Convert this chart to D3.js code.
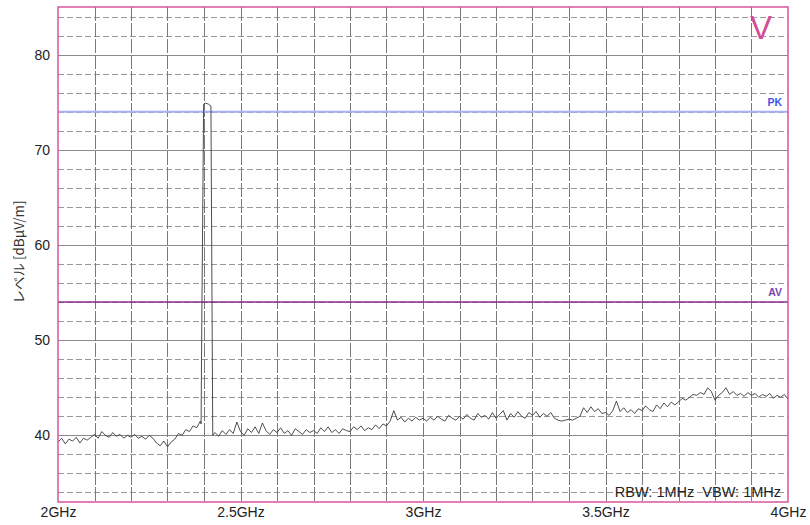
<!DOCTYPE html>
<html>
<head>
<meta charset="utf-8">
<script src="https://cdn.jsdelivr.net/npm/d3@7"></script>
<style>
  html, body { margin: 0; padding: 0; background: #fff; }
  svg { display: block; font-family: "Liberation Sans", Arial, sans-serif; }
</style>
</head>
<body>
<svg id="chart" width="810" height="525"></svg>
<script>
// Spectrum sweep, 2–4 GHz, level in dBµV/m
const yTickValues = [40, 50, 60, 70, 80];
const xTickValues = [2, 2.5, 3, 3.5, 4];
const xTickLabels = ["2GHz", "2.5GHz", "3GHz", "3.5GHz", "4GHz"];

const limitPK = 74;   // peak limit
const limitAV = 54;   // average limit

// Sweep below the carrier: 2.00 … 2.39 GHz, 10 MHz per sample
const lowBandStart = 2.00;
const lowBandLevels = [
  39.3, 39.7, 39.1, 39.6, 39.4, 39.8, 39.2, 39.7, 39.5, 39.8,
  40.1, 39.7, 40.4, 40.0, 39.8, 40.3, 39.9, 40.1, 39.7, 40.0,
  39.8, 40.1, 39.7, 39.9, 39.6, 40.0, 39.7, 39.2, 38.9, 39.4,
  38.8, 39.3, 39.6, 40.2, 40.0, 40.6, 40.4, 41.0, 40.8, 41.5
];

// Carrier around 2.4 GHz: [GHz, dBµV/m]
const carrierPoints = [
  [2.392, 41.2], [2.394, 52.0], [2.399, 74.8], [2.404, 74.9],
  [2.412, 74.8], [2.419, 74.6], [2.424, 40.0]
];

// Sweep above the carrier: 2.43 … 4.00 GHz, 10 MHz per sample
const highBandStart = 2.43;
const highBandLevels = [
  40.3, 39.9, 40.5, 40.1, 40.6, 40.2, 41.4,
  40.4, 40.0, 40.7, 40.3, 40.9, 40.2, 41.3, 40.5, 40.1, 40.6,
  40.3, 40.8, 40.2, 40.5, 40.0, 40.7, 40.4, 40.1, 40.6, 40.3,
  40.5, 40.2, 40.8, 40.4, 40.9, 40.3, 40.6, 40.2, 40.7, 40.5,
  40.4, 40.9, 40.6, 41.0, 40.5, 40.8, 40.6, 41.1, 40.7, 41.2,
  41.0, 41.5, 42.6, 41.6, 41.9, 41.4, 41.8, 41.5, 41.9, 41.6,
  41.8, 41.5, 41.9, 41.6, 42.0, 41.7, 41.5, 42.1, 41.8, 41.6,
  42.0, 41.7, 42.2, 41.8, 41.6, 42.3, 41.9, 42.1, 41.7, 42.4,
  41.8, 42.2, 42.6, 41.6, 42.3, 41.9, 42.5, 42.0, 41.8, 42.4,
  42.1, 42.5, 41.9, 42.3, 42.0, 42.4, 41.8, 41.6, 41.5, 41.6,
  41.7, 41.6, 41.8, 42.0, 42.9, 42.4, 43.0, 42.5, 42.8, 42.3,
  42.4, 42.1, 42.6, 43.6, 42.5, 42.9, 42.4, 42.7, 42.3, 42.8,
  42.6, 43.1, 42.7, 42.5, 43.2, 42.8, 43.4, 43.0, 43.5, 43.2,
  43.5, 43.9, 43.7, 44.0, 44.3, 44.2, 44.5, 44.3, 45.0, 44.6,
  43.7, 44.2, 44.5, 45.0, 44.3, 44.6, 44.2, 44.4, 44.1, 44.5,
  44.2, 44.4, 44.0, 44.3, 44.1, 44.4, 43.9, 44.2, 44.0, 44.3,
  43.8
];
const sampleStep = 0.01;

const trace = [
  ...lowBandLevels.map((v, i) => [lowBandStart + i * sampleStep, v]),
  ...carrierPoints,
  ...highBandLevels.map((v, i) => [highBandStart + i * sampleStep, v])
];

const svg = d3.select("#chart");
const plot = { left: 58, right: 788, top: 7, bottom: 502 };

const x = d3.scaleLinear().domain([2, 4]).range([plot.left, plot.right]);
const y = d3.scaleLinear().domain([33, 85]).range([plot.bottom, plot.top]);

// Grid: horizontal every 2 dB (solid at decades), vertical every 100 MHz
const hGrid = d3.range(34, 85, 2);
const vGrid = d3.range(21, 40).map(d => d / 10);

const grid = svg.append("g");
grid.selectAll("line.h").data(hGrid).join("line")
  .attr("x1", plot.left).attr("x2", plot.right)
  .attr("y1", d => Math.round(y(d)) + 0.5).attr("y2", d => Math.round(y(d)) + 0.5)
  .attr("stroke", d => d % 10 === 0 ? "#8a8a8a" : "#999")
  .attr("stroke-width", 1)
  .attr("stroke-dasharray", d => d % 10 === 0 ? null : "6,3");

grid.selectAll("line.v").data(vGrid).join("line")
  .attr("y1", plot.top).attr("y2", plot.bottom)
  .attr("x1", d => Math.round(x(d)) + 0.5).attr("x2", d => Math.round(x(d)) + 0.5)
  .attr("stroke", "#7a7a7a")
  .attr("stroke-width", 1)
  .attr("stroke-dasharray", "14,2");

// Limit lines
svg.append("line")
  .attr("x1", plot.left).attr("x2", plot.right)
  .attr("y1", y(limitPK)).attr("y2", y(limitPK))
  .attr("stroke", "#a9aef6").attr("stroke-width", 2);
svg.append("text")
  .attr("x", 782).attr("y", y(limitPK) - 6)
  .attr("text-anchor", "end")
  .attr("font-size", 10.5).attr("font-weight", "bold")
  .attr("fill", "#3b55f0")
  .text("PK");

svg.append("line")
  .attr("x1", plot.left).attr("x2", plot.right)
  .attr("y1", y(limitAV)).attr("y2", y(limitAV))
  .attr("stroke", "#8c2d8c").attr("stroke-width", 1.5);
svg.append("text")
  .attr("x", 782).attr("y", y(limitAV) - 6)
  .attr("text-anchor", "end")
  .attr("font-size", 10.5).attr("font-weight", "bold")
  .attr("fill", "#7a45b0")
  .text("AV");

// Trace
svg.append("path")
  .datum(trace)
  .attr("fill", "none")
  .attr("stroke", "#3a3a3a")
  .attr("stroke-width", 0.9)
  .attr("stroke-linejoin", "round")
  .attr("d", d3.line().x(d => x(d[0])).y(d => y(d[1])));

// Plot frame
svg.append("rect")
  .attr("x", plot.left).attr("y", plot.top)
  .attr("width", plot.right - plot.left).attr("height", plot.bottom - plot.top)
  .attr("fill", "none").attr("stroke", "#d9559f").attr("stroke-width", 1.5);

// Detector marker
svg.append("text")
  .attr("x", 761).attr("y", 39)
  .attr("text-anchor", "middle")
  .attr("font-size", 33)
  .attr("fill", "#d24d97")
  .text("V");

// Axes
const yAxis = svg.append("g")
  .attr("transform", `translate(${plot.left},0)`)
  .call(d3.axisLeft(y).tickValues(yTickValues).tickSize(0).tickPadding(8));
yAxis.select(".domain").remove();
yAxis.selectAll("text")
  .attr("font-size", 14).attr("fill", "#222")
  .attr("font-family", "'Liberation Sans', Arial, sans-serif");

const xAxis = svg.append("g")
  .attr("transform", `translate(0,${plot.bottom})`)
  .call(d3.axisBottom(x).tickValues(xTickValues).tickSize(0).tickPadding(5)
    .tickFormat((d, i) => xTickLabels[i]));
xAxis.select(".domain").remove();
xAxis.selectAll("text")
  .attr("font-size", 14).attr("fill", "#222")
  .attr("font-family", "'Liberation Sans', Arial, sans-serif");

// Axis title
svg.append("text")
  .attr("transform", "translate(24,252) rotate(-90)")
  .attr("text-anchor", "middle")
  .attr("font-size", 13.5)
  .attr("fill", "#333")
  .attr("font-family", "'Noto Sans CJK JP', 'Liberation Sans', sans-serif")
  .text("レベル [dBµV/m]");

// Bandwidth settings
svg.append("text")
  .attr("x", 781).attr("y", 497)
  .attr("text-anchor", "end")
  .attr("font-size", 14.5)
  .attr("fill", "#222")
  .attr("xml:space", "preserve")
  .text("RBW: 1MHz  VBW: 1MHz");
</script>
</body>
</html>
